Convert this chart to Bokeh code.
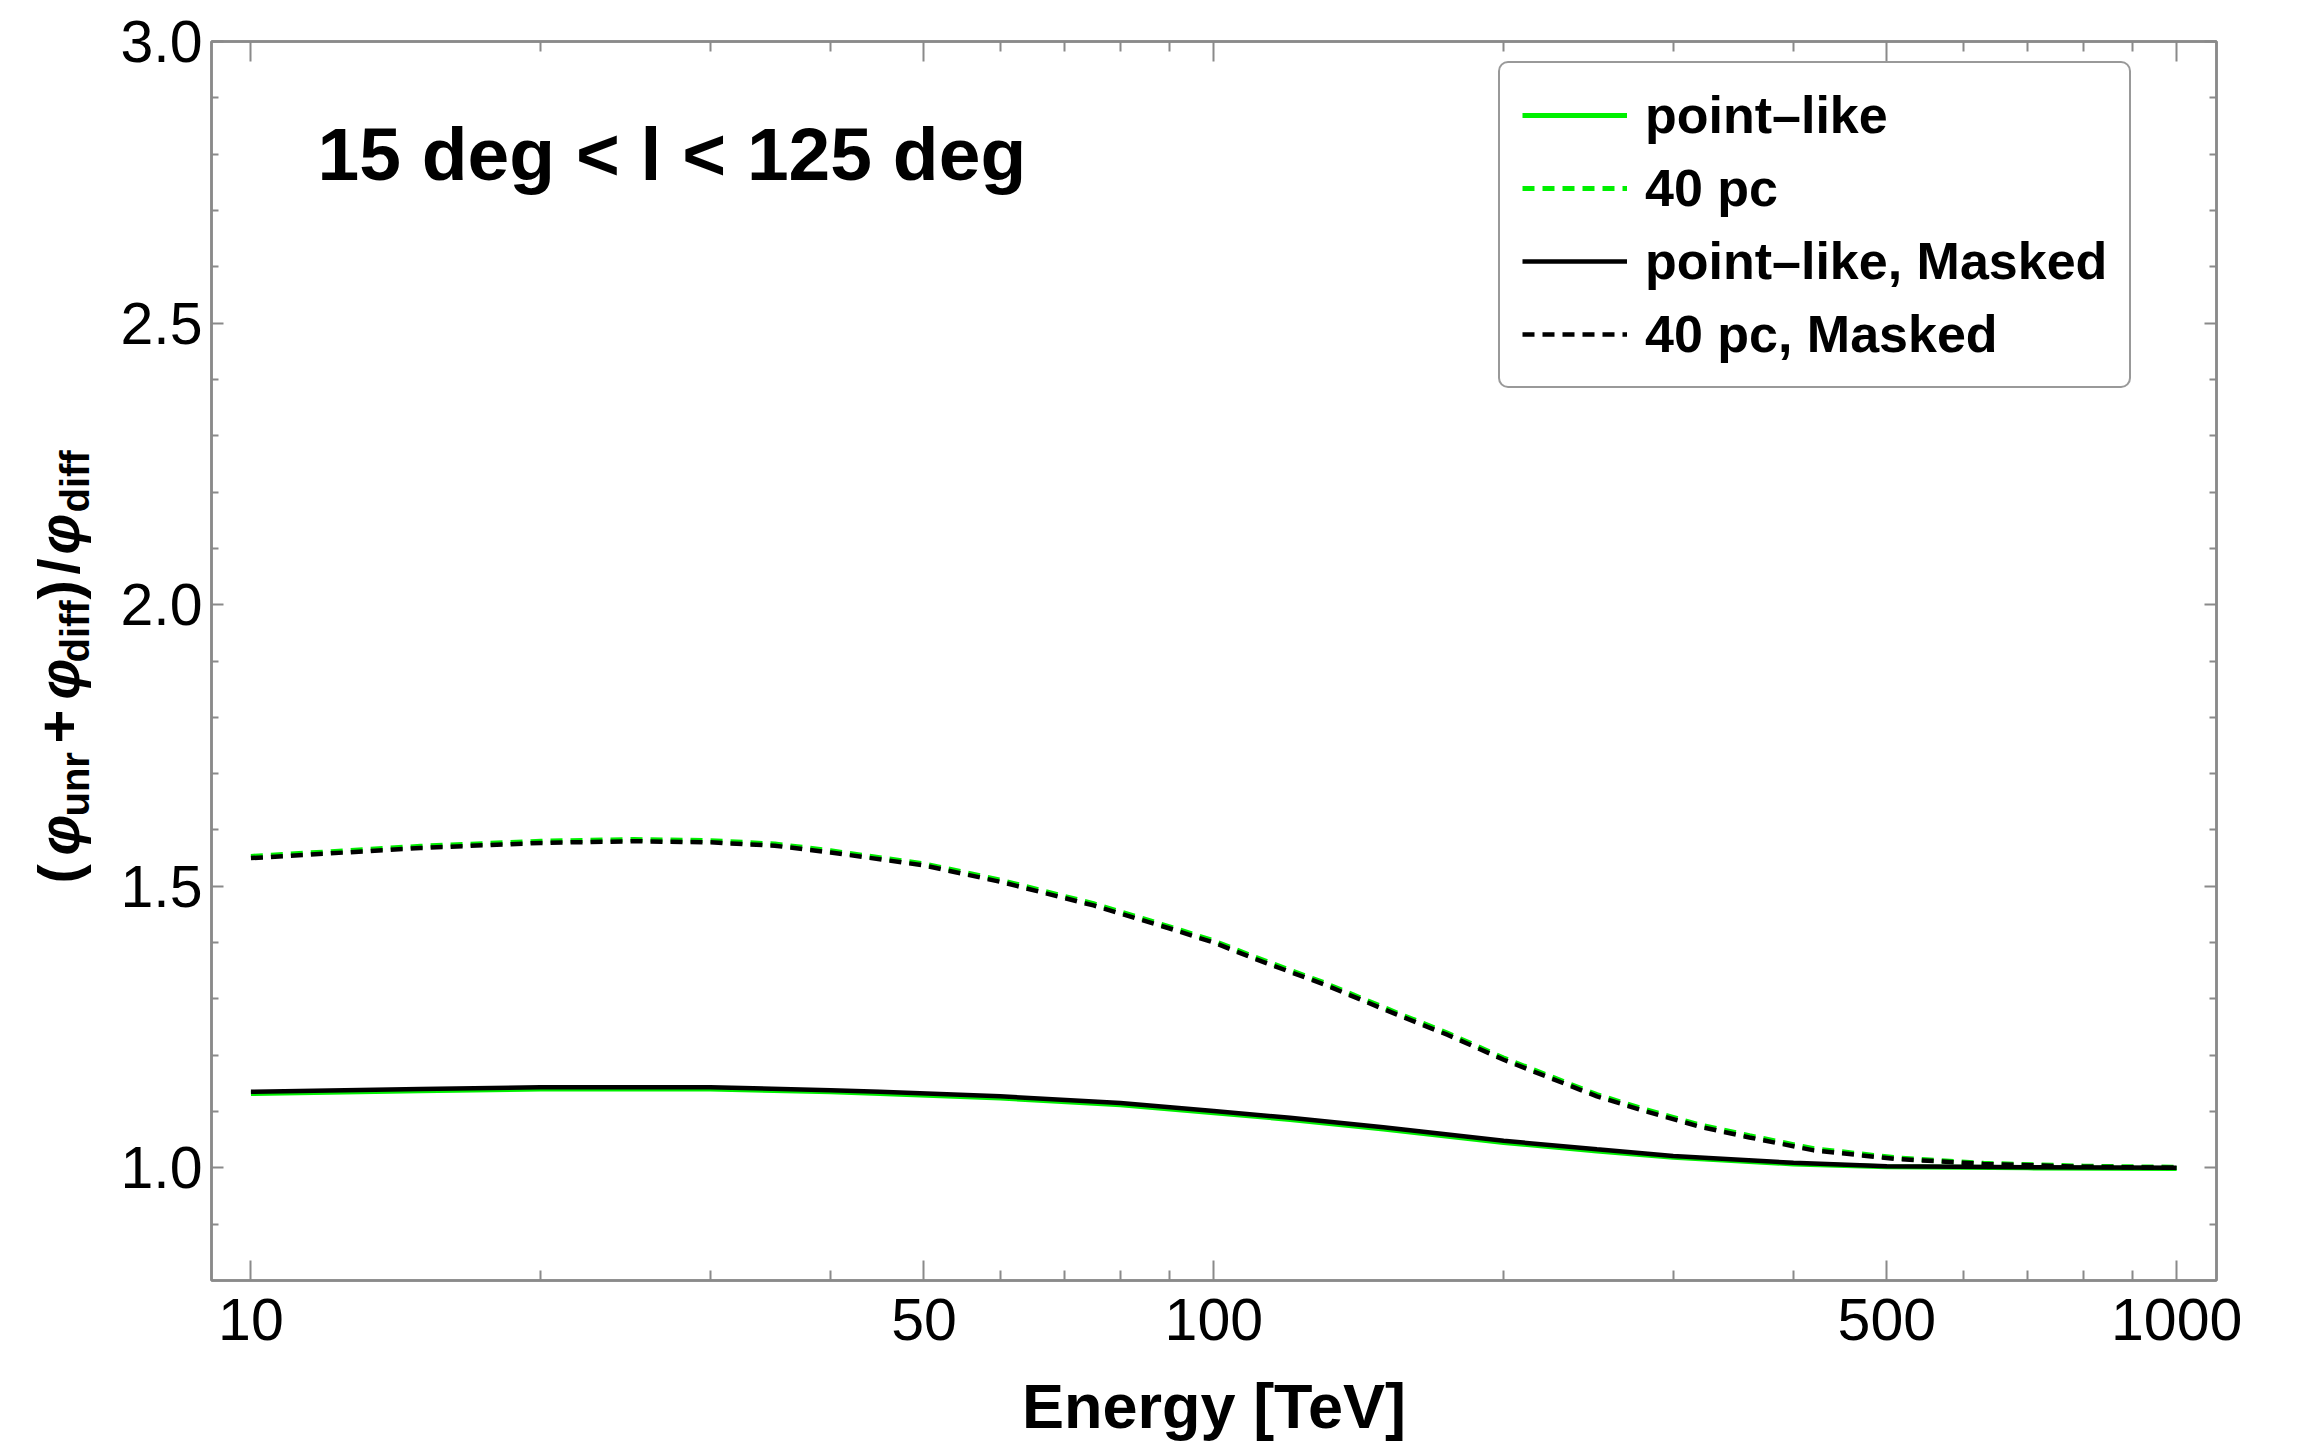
import math
from bokeh.plotting import figure
from bokeh.layouts import row
from bokeh.models import (Range1d, FixedTicker, LogAxis, LinearAxis, Legend,
                          LegendItem, Label)
from bokeh.core.properties import value
from bokeh.embed import file_html
from bokeh.resources import INLINE

# ---------------- data ----------------
energy_pl = [10, 15, 20, 30, 40, 45, 60, 80, 100, 120, 150, 200, 250, 300, 400,
             500, 700, 1000]
ratio_pl = [1.132, 1.137, 1.140, 1.140, 1.135, 1.132, 1.124, 1.112, 1.098, 1.086,
            1.069, 1.045, 1.030, 1.019, 1.007, 1.002, 1.000, 0.999]
ratio_pl_masked = [1.135, 1.140, 1.143, 1.143, 1.138, 1.135, 1.127, 1.115, 1.101,
                   1.089, 1.072, 1.048, 1.033, 1.021, 1.009, 1.003, 1.001, 1.000]

energy_40 = [10, 15, 20, 25, 30, 35, 40, 50, 60, 75, 90, 100, 110, 130, 155, 175,
             200, 250, 280, 320, 360, 420, 510, 630, 800, 1000]
ratio_40 = [1.553, 1.571, 1.580, 1.583, 1.581, 1.575, 1.563, 1.540, 1.511, 1.469,
            1.428, 1.403, 1.375, 1.329, 1.275, 1.239, 1.195, 1.130, 1.104, 1.076,
            1.057, 1.034, 1.018, 1.008, 1.003, 1.001]
ratio_40_masked = [1.550, 1.568, 1.577, 1.580, 1.578, 1.572, 1.560, 1.537, 1.508,
                   1.466, 1.425, 1.400, 1.372, 1.326, 1.272, 1.236, 1.192, 1.127,
                   1.101, 1.073, 1.054, 1.031, 1.016, 1.007, 1.002, 1.000]

x_major = [10, 50, 100, 500, 1000]
x_minor = [20, 30, 40, 60, 70, 80, 90, 200, 300, 400, 600, 700, 800, 900]
x_labels = ["10", "50", "100", "500", "1000"]
y_major = [1.0, 1.5, 2.0, 2.5, 3.0]
y_minor = [0.9, 1.1, 1.2, 1.3, 1.4, 1.6, 1.7, 1.8, 1.9, 2.1, 2.2, 2.3, 2.4,
           2.6, 2.7, 2.8, 2.9]
y_labels = ["1.0", "1.5", "2.0", "2.5", "3.0"]

legend_labels = ["point\u2013like", "40 pc", "point\u2013like, Masked", "40 pc, Masked"]
region_text = "15 deg < l < 125 deg"
x_title = "Energy [TeV]"
# y-axis title: (\u03c6_unr + \u03c6_diff) / \u03c6_diff, split into pieces
ytitle_text = ["(", "\u03c6", "unr", "+", "\u03c6", "diff", ")", "/", "\u03c6", "diff"]
ytitle_is_sub = [False, False, True, False, False, True, False, False, False, True]
ytitle_is_phi = [False, True, False, False, True, False, False, False, True, False]

GREEN = "#00f000"
FRAME = "#8a8a8a"
FONT = "Liberation Sans"
LEFT_W = 110          # width of the strip that carries the y title
H = 1444
FRAME_TOP, FRAME_BOTTOM = 41, 1280

# ---------------- main figure ----------------
p = figure(width=2299 - LEFT_W, height=H, x_axis_type="log",
           x_range=Range1d(9.1, 1100), y_range=Range1d(0.8, 3.0),
           output_backend="svg", toolbar_location=None,
           min_border_left=211 - LEFT_W, min_border_right=83,
           min_border_top=FRAME_TOP, min_border_bottom=H - FRAME_BOTTOM)
p.background_fill_color = "white"
p.border_fill_color = "white"
p.grid.visible = False
p.outline_line_color = FRAME
p.outline_line_width = 2.5

r1 = p.line(energy_pl, ratio_pl, line_color=GREEN, line_width=5)
r2 = p.line(energy_40, ratio_40, line_color=GREEN, line_width=5, line_dash="12 8")
r3 = p.line(energy_pl, ratio_pl_masked, line_color="black", line_width=4.5)
r4 = p.line(energy_40, ratio_40_masked, line_color="black", line_width=4.5,
            line_dash="12 8")


def style_common(ax, tick_in, minor_in):
    ax.axis_line_color = FRAME
    ax.axis_line_width = 2.5
    ax.major_tick_line_color = FRAME
    ax.minor_tick_line_color = FRAME
    ax.major_tick_line_width = 2
    ax.minor_tick_line_width = 2
    ax.major_tick_in = tick_in
    ax.major_tick_out = 0
    ax.minor_tick_in = minor_in
    ax.minor_tick_out = 0


def hide_labels(ax):
    # mirrored frame axes: ticks only, no tick labels drawn
    ax.major_label_text_color = None
    ax.major_label_text_font_size = "10px"
    ax.major_label_standoff = 0


xa = p.xaxis[0]
xa.ticker = FixedTicker(ticks=x_major, minor_ticks=x_minor)
style_common(xa, 20, 10)
xa.major_label_overrides = {v: s for v, s in zip(x_major, x_labels)}
xa.major_label_text_font = FONT
xa.major_label_text_font_size = "59px"
xa.major_label_text_color = "black"
xa.major_label_standoff = 18
xa.axis_label = x_title
xa.axis_label_text_font = FONT
xa.axis_label_text_font_style = "bold"
xa.axis_label_text_font_size = "63px"
xa.axis_label_text_color = "black"
xa.axis_label_standoff = 28

ya = p.yaxis[0]
ya.ticker = FixedTicker(ticks=y_major, minor_ticks=y_minor)
style_common(ya, 12, 7)
ya.major_label_overrides = {v: s for v, s in zip(y_major, y_labels)}
ya.major_label_text_font = FONT
ya.major_label_text_font_size = "59px"
ya.major_label_text_color = "black"
ya.major_label_standoff = 9

top_ax = LogAxis(ticker=FixedTicker(ticks=x_major, minor_ticks=x_minor))
style_common(top_ax, 20, 10)
hide_labels(top_ax)
p.add_layout(top_ax, "above")
right_ax = LinearAxis(ticker=FixedTicker(ticks=y_major, minor_ticks=y_minor))
style_common(right_ax, 12, 7)
hide_labels(right_ax)
p.add_layout(right_ax, "right")

# ---------------- legend ----------------
legend = Legend(items=[LegendItem(label=legend_labels[0], renderers=[r1]),
                       LegendItem(label=legend_labels[1], renderers=[r2]),
                       LegendItem(label=legend_labels[2], renderers=[r3]),
                       LegendItem(label=legend_labels[3], renderers=[r4])],
                location=(1287, 892),
                label_text_font=FONT,
                label_text_font_style="bold",
                label_text_font_size="52px",
                label_text_color="black",
                glyph_width=105, glyph_height=60, label_height=60,
                label_standoff=18, padding=22, spacing=13,
                border_line_color="#333333", border_line_width=2.5,
                background_fill_color="white", background_fill_alpha=1.0)
if "border_radius" in Legend.properties():
    legend.border_radius = 10
p.add_layout(legend)

# ---------------- region text ----------------
p.add_layout(Label(x=106, y=1127, x_units="screen", y_units="screen",
                   text=region_text, text_font=FONT, text_font_style="bold",
                   text_font_size="75px", text_color="black",
                   text_align="left", text_baseline="alphabetic"))

# ---------------- strip with the y-axis title ----------------
# its frame lines up with the main frame (rows FRAME_TOP..FRAME_BOTTOM), so the
# ranges are chosen such that data units equal page pixels
yl = figure(width=LEFT_W, height=H, x_range=Range1d(0, LEFT_W),
            y_range=Range1d(H - FRAME_BOTTOM, H - FRAME_TOP),
            output_backend="svg", toolbar_location=None,
            min_border=0, min_border_left=0, min_border_right=0,
            min_border_top=FRAME_TOP, min_border_bottom=H - FRAME_BOTTOM)
yl.axis.visible = False
yl.grid.visible = False
yl.outline_line_color = None
yl.background_fill_color = "white"
yl.border_fill_color = "white"

# start of each piece along the title (page pixel row), measured on the reference
ytitle_start = [883, 855, 816, 743, 699, 662, 599, 574, 554, 512]
MAIN_BASE = 58
SUB_BASE = 74
for txt, sub, phi, ys in zip(ytitle_text, ytitle_is_sub, ytitle_is_phi, ytitle_start):
    yl.text(x=[SUB_BASE if sub else MAIN_BASE], y=[H - ys], text=[txt],
            angle=math.pi / 2, text_font=value(FONT),
            text_font_style="bold italic" if phi else "bold",
            text_font_size="40px" if sub else "58px", text_color="black",
            text_align="left", text_baseline="alphabetic")

layout = row(yl, p, spacing=0)
open("out.html", "w").write(file_html(layout, INLINE))
